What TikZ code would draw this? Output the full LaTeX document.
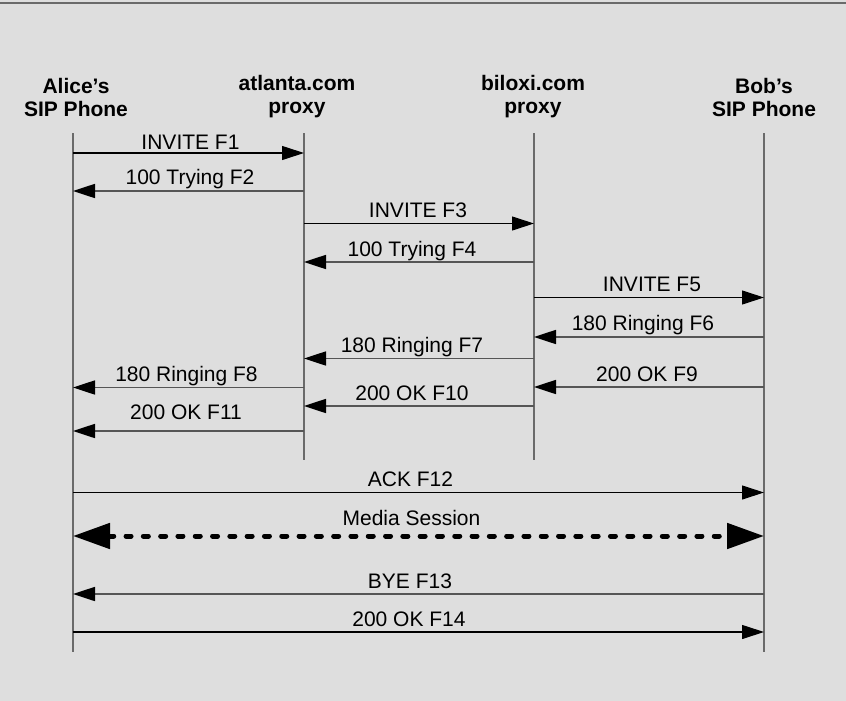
\documentclass[tikz,border=0pt]{standalone}
\usepackage{fontspec}
\setmainfont{Liberation Sans}
\usetikzlibrary{arrows.meta}
\definecolor{bg}{HTML}{DEDEDE}
\definecolor{lifegray}{HTML}{6A6A6A}
\definecolor{msggray}{HTML}{555555}
\begin{document}
\begin{tikzpicture}[x=1pt,y=-1pt,
  life/.style={draw=lifegray, line width=1.8pt},
  tipsmall/.style={-{Triangle[length=22pt,width=14pt,color=black]}},
  msgr/.style={draw=black, line width=1.1pt, tipsmall},
  msgl/.style={draw=msggray, line width=1.7pt, tipsmall},
  media/.style={draw=black, line width=5pt, line cap=round, dash pattern=on 5pt off 12.3pt,
    {Triangle[length=37pt,width=25pt,color=black]}-{Triangle[length=37pt,width=25pt,color=black]}},
  lbl/.style={font=\fontsize{21}{23}\selectfont, anchor=base, inner sep=0pt, midway},
  hdr/.style={font=\fontsize{21}{23}\selectfont\bfseries, align=center, inner sep=0pt}]
\useasboundingbox (0,0) rectangle (846,701);
\fill[bg] (0,0) rectangle (846,701);
\draw[line width=2pt, lifegray] (0,3.5) -- (846,3.5);

% headers
\node[hdr] (alice) at (76,97) {Alice’s\\SIP Phone};
\node[hdr] (atl) at (297,97) {atlanta.com\\proxy};
\node[hdr] (bil) at (533,97) {biloxi.com\\proxy};
\node[hdr] (bob) at (764,97) {Bob’s\\SIP Phone};

% lifelines
\coordinate (aT) at (73,133);  \coordinate (aB) at (73,652);
\coordinate (tT) at (304,133); \coordinate (tB) at (304,460);
\coordinate (bT) at (534,133); \coordinate (bB) at (534,460);
\coordinate (oT) at (764,133); \coordinate (oB) at (764,652);
\draw[life] (aT) -- (aB);
\draw[life] (tT) -- (tB);
\draw[life] (bT) -- (bB);
\draw[life] (oT) -- (oB);

% messages
\draw[msgr] (aT |- 0,153) -- node[lbl, xshift=2pt, yshift=3.5pt] {INVITE F1} (tT |- 0,153);
\draw[msgl] (tT |- 0,191) -- node[lbl, xshift=1.5pt, yshift=7pt] {100 Trying F2} (aT |- 0,191);
\draw[msgr] (tT |- 0,223.5) -- node[lbl, xshift=-1pt, yshift=6.3pt] {INVITE F3} (bT |- 0,223.5);
\draw[msgl] (bT |- 0,262) -- node[lbl, xshift=-7pt, yshift=5.8pt] {100 Trying F4} (tT |- 0,262);
\draw[msgr] (bT |- 0,297.5) -- node[lbl, xshift=3pt, yshift=5.8pt] {INVITE F5} (oT |- 0,297.5);
\draw[msgl] (oT |- 0,337) -- node[lbl, xshift=-6pt, yshift=6.5pt] {180 Ringing F6} (bT |- 0,337);
\draw[msgl] (bT |- 0,358.5) -- node[lbl, xshift=-7pt, yshift=6.3pt] {180 Ringing F7} (tT |- 0,358.5);
\draw[msgl] (tT |- 0,387.5) -- node[lbl, xshift=-2pt, yshift=6.3pt] {180 Ringing F8} (aT |- 0,387.5);
\draw[msgl] (oT |- 0,387) -- node[lbl, xshift=-2pt, yshift=5.3pt] {200 OK F9} (bT |- 0,387);
\draw[msgl] (bT |- 0,406) -- node[lbl, xshift=-7pt, yshift=5.5pt] {200 OK F10} (tT |- 0,406);
\draw[msgl] (tT |- 0,431) -- node[lbl, xshift=-2.5pt, yshift=11.7pt] {200 OK F11} (aT |- 0,431);
\draw[msgr] (aT |- 0,492.5) -- node[lbl, xshift=-8pt, yshift=5.7pt] {ACK F12} (oT |- 0,492.5);
\draw[media] (aT |- 0,536) -- node[lbl, xshift=-7pt, yshift=10.3pt] {Media Session} (oT |- 0,536);
\draw[msgl] (oT |- 0,594) -- node[lbl, xshift=-8.5pt, yshift=6pt] {BYE F13} (aT |- 0,594);
\draw[msgr] (aT |- 0,632) -- node[lbl, xshift=-9.5pt, yshift=5.4pt] {200 OK F14} (oT |- 0,632);
\end{tikzpicture}
\end{document}
